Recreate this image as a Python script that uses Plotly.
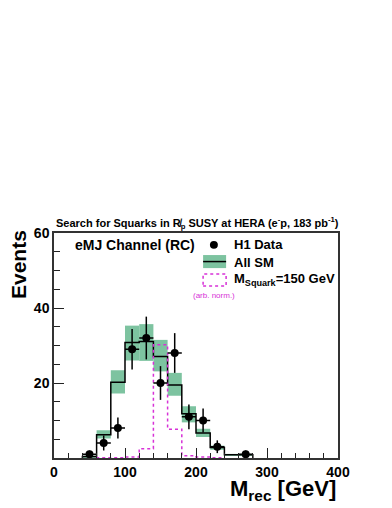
import plotly.graph_objects as go

# binning (GeV)
bin_lefts = [40, 60, 80, 100, 120, 140, 160, 180, 200, 220, 240, 260]
bin_width = 20

# All SM expectation and its uncertainty band
sm_values = [0.4, 6.2, 20.2, 30.8, 31.1, 27.1, 19.5, 11.8, 6.7, 2.8, 0.9, 0.9]
sm_low = [0.2, 5.2, 17.2, 26.0, 25.9, 23.1, 16.6, 9.5, 5.6, 2.2, 0.7, 0.7]
sm_high = [0.6, 7.4, 23.4, 35.3, 35.7, 31.5, 22.7, 13.8, 7.8, 3.3, 1.1, 1.1]

# squark signal, M = 150 GeV (arb. norm.)
sig_lefts = [60, 80, 100, 120, 140, 160, 180, 200, 220]
sig_values = [0.1, 0.1, 0.3, 2.5, 30.2, 7.7, 0.6, 0.3, 0.1]

# H1 data
data_x = [50, 70, 90, 110, 130, 150, 170, 190, 210, 230, 270]
data_y = [1, 4, 8, 29, 32, 20, 28, 11, 10, 3, 1]
data_err = [1, 2, 2.8, 5.4, 5.7, 4.5, 5.3, 3.3, 3.2, 1.7, 1]

GREEN = "rgb(125,195,160)"
MAGENTA = "rgb(215,50,215)"
FONT = "Liberation Sans, Arial, sans-serif"


def step_xy(lefts, values, width):
    xs = [lefts[0]] + list(lefts) + [lefts[-1] + width]
    ys = [0] + list(values) + [0]
    return xs, ys


fig = go.Figure()

fig.add_trace(
    go.Bar(
        x=[l + bin_width / 2 for l in bin_lefts],
        y=[h - l for h, l in zip(sm_high, sm_low)],
        base=sm_low,
        width=bin_width,
        marker=dict(color=GREEN, line=dict(width=0)),
        showlegend=False,
    )
)

sx, sy = step_xy(bin_lefts, sm_values, bin_width)
fig.add_trace(
    go.Scatter(x=sx, y=sy, mode="lines", line=dict(color="black", width=1.5, shape="hv"),
               showlegend=False)
)

gx, gy = step_xy(sig_lefts, sig_values, bin_width)
fig.add_trace(
    go.Scatter(x=gx, y=gy, mode="lines", line=dict(color=MAGENTA, width=1.5, shape="hv", dash="dot"),
               showlegend=False)
)

fig.add_trace(
    go.Scatter(
        x=data_x,
        y=data_y,
        mode="markers",
        marker=dict(color="black", size=8),
        error_y=dict(type="data", array=data_err, color="black", thickness=1.5, width=0),
        error_x=dict(type="constant", value=bin_width / 2, color="black", thickness=1.5, width=0),
        showlegend=False,
    )
)

axis_common = dict(
    showline=True,
    linecolor="#333",
    linewidth=1.5,
    mirror=True,
    showgrid=False,
    zeroline=False,
    ticks="inside",
    tickcolor="#222",
    tickwidth=1.2,
    ticklen=10,
    tickfont=dict(family=FONT, size=14, color="black", weight="bold"),
)

fig.update_xaxes(
    range=[0, 400],
    tickmode="linear",
    tick0=0,
    dtick=100,
    minor=dict(ticks="inside", tickmode="linear", tick0=0, dtick=20, ticklen=5, tickcolor="#222"),
    **axis_common,
)
fig.update_yaxes(
    range=[0, 60],
    tickvals=[20, 40, 60],
    minor=dict(ticks="inside", tickmode="linear", tick0=0, dtick=5, ticklen=6, tickcolor="#222"),
    **axis_common,
)

# decorations: titles, labels, hand-drawn legend (paper coordinates)
ann = [
    dict(text="<b>Search for Squarks in R̸<sub>p</sub> SUSY at HERA (e<sup>-</sup>p, 183 pb<sup>-1</sup>)</b>",
         x=0.0, y=1.045, xanchor="left", yanchor="middle", font=dict(size=11)),
    dict(text="<b>eMJ Channel (RC)</b>", x=0.067, y=0.947, xanchor="left", yanchor="middle",
         font=dict(size=14)),
    dict(text="<b>H1 Data</b>", x=0.627, y=0.947, xanchor="left", yanchor="middle", font=dict(size=13)),
    dict(text="<b>All SM</b>", x=0.627, y=0.871, xanchor="left", yanchor="middle", font=dict(size=13)),
    dict(text="<b>M<sub>Squark</sub>=150 GeV</b>", x=0.627, y=0.795, xanchor="left", yanchor="middle",
         font=dict(size=13)),
    dict(text="(arb. norm.)", x=0.563, y=0.724, xanchor="center", yanchor="middle",
         font=dict(size=8, color=MAGENTA)),
    dict(text="<b>Events</b>", x=-0.125, y=1.022, xanchor="center", yanchor="top", textangle=-90,
         font=dict(size=21)),
    dict(text="<b>M<sub>rec</sub> [GeV]</b>", x=1.0, y=-0.14, xanchor="right", yanchor="middle",
         font=dict(size=22)),
]
for a in ann:
    a.update(xref="paper", yref="paper", showarrow=False)
    f = dict(a["font"])
    f.setdefault("color", "black")
    f["family"] = FONT
    a["font"] = f

shapes = [
    dict(type="circle", x0=0.549, x1=0.577, y0=0.93, y1=0.965, fillcolor="black", line=dict(width=0)),
    dict(type="rect", x0=0.525, x1=0.606, y0=0.844, y1=0.902, fillcolor=GREEN, line=dict(width=0)),
    dict(type="line", x0=0.525, x1=0.606, y0=0.873, y1=0.873, line=dict(color="black", width=1.5)),
    dict(type="rect", x0=0.525, x1=0.606, y0=0.764, y1=0.818, line=dict(color=MAGENTA, width=1.5, dash="dot")),
]
for s in shapes:
    s.update(xref="paper", yref="paper")

# the page body adds an 8px offset; size the figure so the plot box lands where the reference has it
fig.update_layout(
    width=384,
    height=500,
    margin=dict(l=46, r=54, t=225, b=50),
    paper_bgcolor="white",
    plot_bgcolor="white",
    showlegend=False,
    barmode="overlay",
    font=dict(family=FONT, color="black"),
    annotations=ann,
    shapes=shapes,
)

fig.write_html("out.html")
